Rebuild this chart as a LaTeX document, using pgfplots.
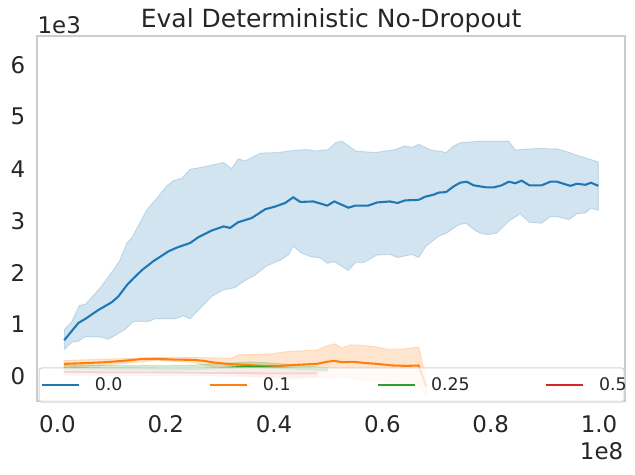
\documentclass[border=0pt]{standalone}
\usepackage{pgfplots}
\pgfplotsset{compat=1.18}
\usepgfplotslibrary{fillbetween}
\usepackage{fontspec}
\setmainfont{DejaVu Sans}
\definecolor{c0}{HTML}{1F77B4}
\definecolor{c1}{HTML}{FF7F0E}
\definecolor{c2}{HTML}{2CA02C}
\definecolor{c3}{HTML}{D62728}
\definecolor{framegray}{HTML}{CCCCCC}
\begin{document}
\begin{tikzpicture}
\begin{axis}[
  name=ax,
  at={(0,0)}, anchor=south west,
  scale only axis, width=423.1pt, height=263pt,
  xmin=-0.037, xmax=1.048, ymin=-0.47, ymax=6.56,
  axis line style={draw=framegray, line width=1.25pt},
  major tick length=0pt,
  xtick={0,0.2,0.4,0.6,0.8,1.0},
  xticklabels={0.0,0.2,0.4,0.6,0.8,1.0},
  ytick={0,1,2,3,4,5,6},
  yticklabels={0,1,2,3,4,5,6},
  ticklabel style={font=\fontsize{16.5}{19}\selectfont, text=black!85, inner sep=0pt},
  xticklabel style={anchor=base, yshift=-22.8pt},
  yticklabel style={anchor=east, xshift=-8.5pt},
  scaled ticks=false,
  legend columns=4,
  legend image code/.code={\draw[#1, line width=1.5pt] (0pt,0pt) -- (26.6pt,0pt);},
  legend style={at={(0.5,0)}, anchor=south, xshift=0.3pt, yshift=-1.2pt,
    draw=black!17, line width=0.8pt, rounded corners=2pt,
    fill=white, fill opacity=0.8, text opacity=1, draw opacity=1,
    inner xsep=1.3pt, inner ysep=6.9pt,
    font=\fontsize{12.5}{15}\selectfont, text=black!85,
    nodes={inner sep=0pt, anchor=west},
    /tikz/every odd column/.append style={column sep=10.8pt},
    /tikz/every even column/.append style={column sep=0pt}},
]
% ---------- 0.0 (blue) ----------
\addplot[name path=bu, draw=none, forget plot] coordinates {
(0.0127,0.90) (0.0267,1.06) (0.0406,1.37) (0.0516,1.39) (0.0785,1.70) (0.1034,2.05)
(0.1154,2.24) (0.1284,2.57) (0.1373,2.67) (0.1653,3.21) (0.1832,3.43) (0.2022,3.67)
(0.2141,3.77) (0.2301,3.82) (0.2450,3.99) (0.2570,4.01) (0.2819,4.06) (0.3069,4.12)
(0.3218,4.00) (0.3338,4.19) (0.3468,4.15) (0.3747,4.30) (0.4046,4.31) (0.4355,4.35)
(0.4604,4.37) (0.4764,4.34) (0.5003,4.37) (0.5133,4.50) (0.5252,4.53) (0.5512,4.34)
(0.5871,4.31) (0.6240,4.37) (0.6419,4.44) (0.6549,4.41) (0.6669,4.47) (0.6918,4.35)
(0.7057,4.34) (0.7177,4.31) (0.7317,4.44) (0.7436,4.50) (0.7805,4.53) (0.8334,4.53)
(0.8454,4.36) (0.8853,4.39) (0.9221,4.38) (0.9371,4.34) (0.9620,4.25) (0.9780,4.20)
(0.9989,4.13)};
\addplot[name path=bl, draw=none, forget plot] coordinates {
(0.0127,0.52) (0.0267,0.66) (0.0386,0.68) (0.0516,0.77) (0.0785,0.76) (0.0945,0.72)
(0.1094,0.81) (0.1254,0.91) (0.1403,1.06) (0.1683,1.06) (0.1802,1.11) (0.2171,1.11)
(0.2331,1.17) (0.2450,1.11) (0.2670,1.35) (0.2849,1.54) (0.3069,1.67) (0.3278,1.71)
(0.3438,1.83) (0.3647,1.95) (0.3867,2.13) (0.4116,2.24) (0.4265,2.34) (0.4355,2.51)
(0.4485,2.39) (0.4664,2.31) (0.4854,2.28) (0.4983,2.18) (0.5113,2.21) (0.5372,2.04)
(0.5502,2.19) (0.5651,2.19) (0.5901,2.34) (0.6140,2.35) (0.6280,2.29) (0.6549,2.35)
(0.6669,2.29) (0.6808,2.51) (0.7038,2.70) (0.7187,2.76) (0.7407,2.92) (0.7546,2.95)
(0.7686,2.83) (0.7805,2.76) (0.7955,2.73) (0.8114,2.76) (0.8334,2.99) (0.8543,3.13)
(0.8713,2.97) (0.8942,2.95) (0.9102,3.08) (0.9221,3.08) (0.9441,3.02) (0.9590,3.13)
(0.9750,3.15) (0.9850,3.24) (0.9989,3.20)};
\addplot[fill=c0, fill opacity=0.2, draw=c0, draw opacity=0.2, line width=0.7pt, forget plot] fill between[of=bu and bl];
\addplot[c0, line width=1.5pt] coordinates {
(0.0127,0.70) (0.0386,1.03) (0.0516,1.11) (0.0755,1.28) (0.1004,1.43) (0.1124,1.54)
(0.1284,1.76) (0.1403,1.89) (0.1563,2.05) (0.1772,2.22) (0.2051,2.41) (0.2201,2.48)
(0.2450,2.57) (0.2600,2.68) (0.2849,2.81) (0.3069,2.89) (0.3188,2.86) (0.3338,2.97)
(0.3587,3.05) (0.3837,3.22) (0.4016,3.27) (0.4205,3.34) (0.4355,3.45) (0.4485,3.36)
(0.4724,3.37) (0.4983,3.29) (0.5113,3.37) (0.5372,3.25) (0.5502,3.29) (0.5741,3.29)
(0.5901,3.35) (0.6140,3.37) (0.6280,3.34) (0.6419,3.39) (0.6669,3.40) (0.6788,3.46)
(0.6948,3.50) (0.7038,3.54) (0.7177,3.55) (0.7317,3.66) (0.7436,3.73) (0.7556,3.75)
(0.7686,3.68) (0.7925,3.64) (0.8055,3.64) (0.8204,3.68) (0.8334,3.75) (0.8454,3.72)
(0.8573,3.77) (0.8713,3.68) (0.8942,3.68) (0.9102,3.75) (0.9221,3.75) (0.9471,3.67)
(0.9590,3.71) (0.9750,3.69) (0.9850,3.73) (0.9989,3.67)};
\addlegendentry{\makebox[82.1pt][l]{0.0}}
% ---------- 0.1 (orange) ----------
\addplot[name path=ou, draw=none, forget plot] coordinates {
(0.0124,0.31) (0.091,0.335) (0.184,0.37) (0.251,0.37) (0.288,0.36) (0.322,0.354)
(0.334,0.42) (0.393,0.437) (0.424,0.48) (0.479,0.51) (0.500,0.60) (0.513,0.63)
(0.525,0.55) (0.541,0.61) (0.565,0.60) (0.590,0.57) (0.608,0.53) (0.639,0.53)
(0.654,0.55) (0.667,0.57) (0.681,-0.05)};
\addplot[name path=ol, draw=none, forget plot] coordinates {
(0.0124,0.178) (0.091,0.219) (0.184,0.312) (0.251,0.272) (0.288,0.18) (0.322,0.124)
(0.334,0.03) (0.393,-0.03) (0.424,-0.05) (0.479,-0.02) (0.500,-0.03) (0.513,-0.03)
(0.525,0.0) (0.541,-0.04) (0.565,-0.07) (0.590,-0.08) (0.608,-0.10) (0.639,-0.12)
(0.654,-0.13) (0.667,-0.15) (0.681,-0.35)};
\addplot[fill=c1, fill opacity=0.2, draw=c1, draw opacity=0.2, line width=0.7pt, forget plot] fill between[of=ou and ol];
\addplot[c1, line width=1.5pt] coordinates {
(0.0124,0.244) (0.048,0.257) (0.091,0.277) (0.128,0.308) (0.153,0.335) (0.184,0.341)
(0.214,0.327) (0.251,0.321) (0.270,0.302) (0.288,0.27) (0.319,0.239) (0.343,0.225)
(0.380,0.206) (0.411,0.206) (0.442,0.225) (0.479,0.244) (0.497,0.283) (0.511,0.302)
(0.525,0.277) (0.547,0.283) (0.571,0.258) (0.590,0.244) (0.620,0.212) (0.645,0.206)
(0.667,0.212) (0.681,-0.20)};
\addlegendentry{\makebox[82.1pt][l]{0.1}}
% ---------- 0.25 (green) ----------
\addplot[name path=gu, draw=none, forget plot] coordinates {
(0.0124,0.22) (0.05,0.22) (0.1,0.21) (0.15,0.21) (0.2,0.21) (0.25,0.22) (0.3,0.25)
(0.35,0.28) (0.38,0.27) (0.42,0.24) (0.46,0.20) (0.5,0.17)};
\addplot[name path=gl, draw=none, forget plot] coordinates {
(0.0124,0.10) (0.05,0.10) (0.1,0.09) (0.15,0.09) (0.2,0.07) (0.25,0.06) (0.3,0.07)
(0.35,0.10) (0.38,0.09) (0.42,0.08) (0.46,0.08) (0.5,0.09)};
\addplot[fill=c2, fill opacity=0.2, draw=c2, draw opacity=0.2, line width=0.7pt, forget plot] fill between[of=gu and gl];
\addplot[c2, line width=1.5pt] coordinates {
(0.0124,0.16) (0.05,0.16) (0.1,0.15) (0.15,0.15) (0.2,0.14) (0.25,0.14) (0.3,0.16)
(0.35,0.19) (0.38,0.18) (0.42,0.16) (0.46,0.14) (0.5,0.13)};
\addlegendentry{\makebox[82.1pt][l]{0.25}}
% ---------- 0.5 (red) ----------
\addplot[name path=ru, draw=none, forget plot] coordinates {
(0.0124,0.15) (0.1,0.14) (0.2,0.14) (0.3,0.13) (0.4,0.13) (0.48,0.13)};
\addplot[name path=rl, draw=none, forget plot] coordinates {
(0.0124,0.03) (0.1,0.02) (0.2,0.02) (0.3,0.01) (0.4,-0.01) (0.48,-0.01)};
\addplot[fill=c3, fill opacity=0.2, draw=c3, draw opacity=0.2, line width=0.7pt, forget plot] fill between[of=ru and rl];
\addplot[c3, line width=1.5pt] coordinates {
(0.0124,0.09) (0.1,0.08) (0.2,0.08) (0.3,0.07) (0.4,0.06) (0.48,0.06)};
\addlegendentry{\makebox[16.7pt][l]{0.5}}
\end{axis}
% ---------- texts ----------
\node[anchor=base, inner sep=0pt, font=\fontsize{18}{21}\selectfont, text=black!85] at ([yshift=5.8pt]ax.north) {Eval Deterministic No-Dropout};
\node[anchor=base west, inner sep=0pt, font=\fontsize{16.5}{19}\selectfont, text=black!85] at ([yshift=1.7pt]ax.north west) {1e3};
\node[anchor=base east, inner sep=0pt, font=\fontsize{16.5}{19}\selectfont, text=black!85] at ([xshift=-1.1pt, yshift=-42.5pt]ax.south east) {1e8};
\pgfresetboundingbox
\useasboundingbox (-26.9pt,-52.6pt) rectangle (430.3pt,288.7pt);
\end{tikzpicture}
\end{document}
